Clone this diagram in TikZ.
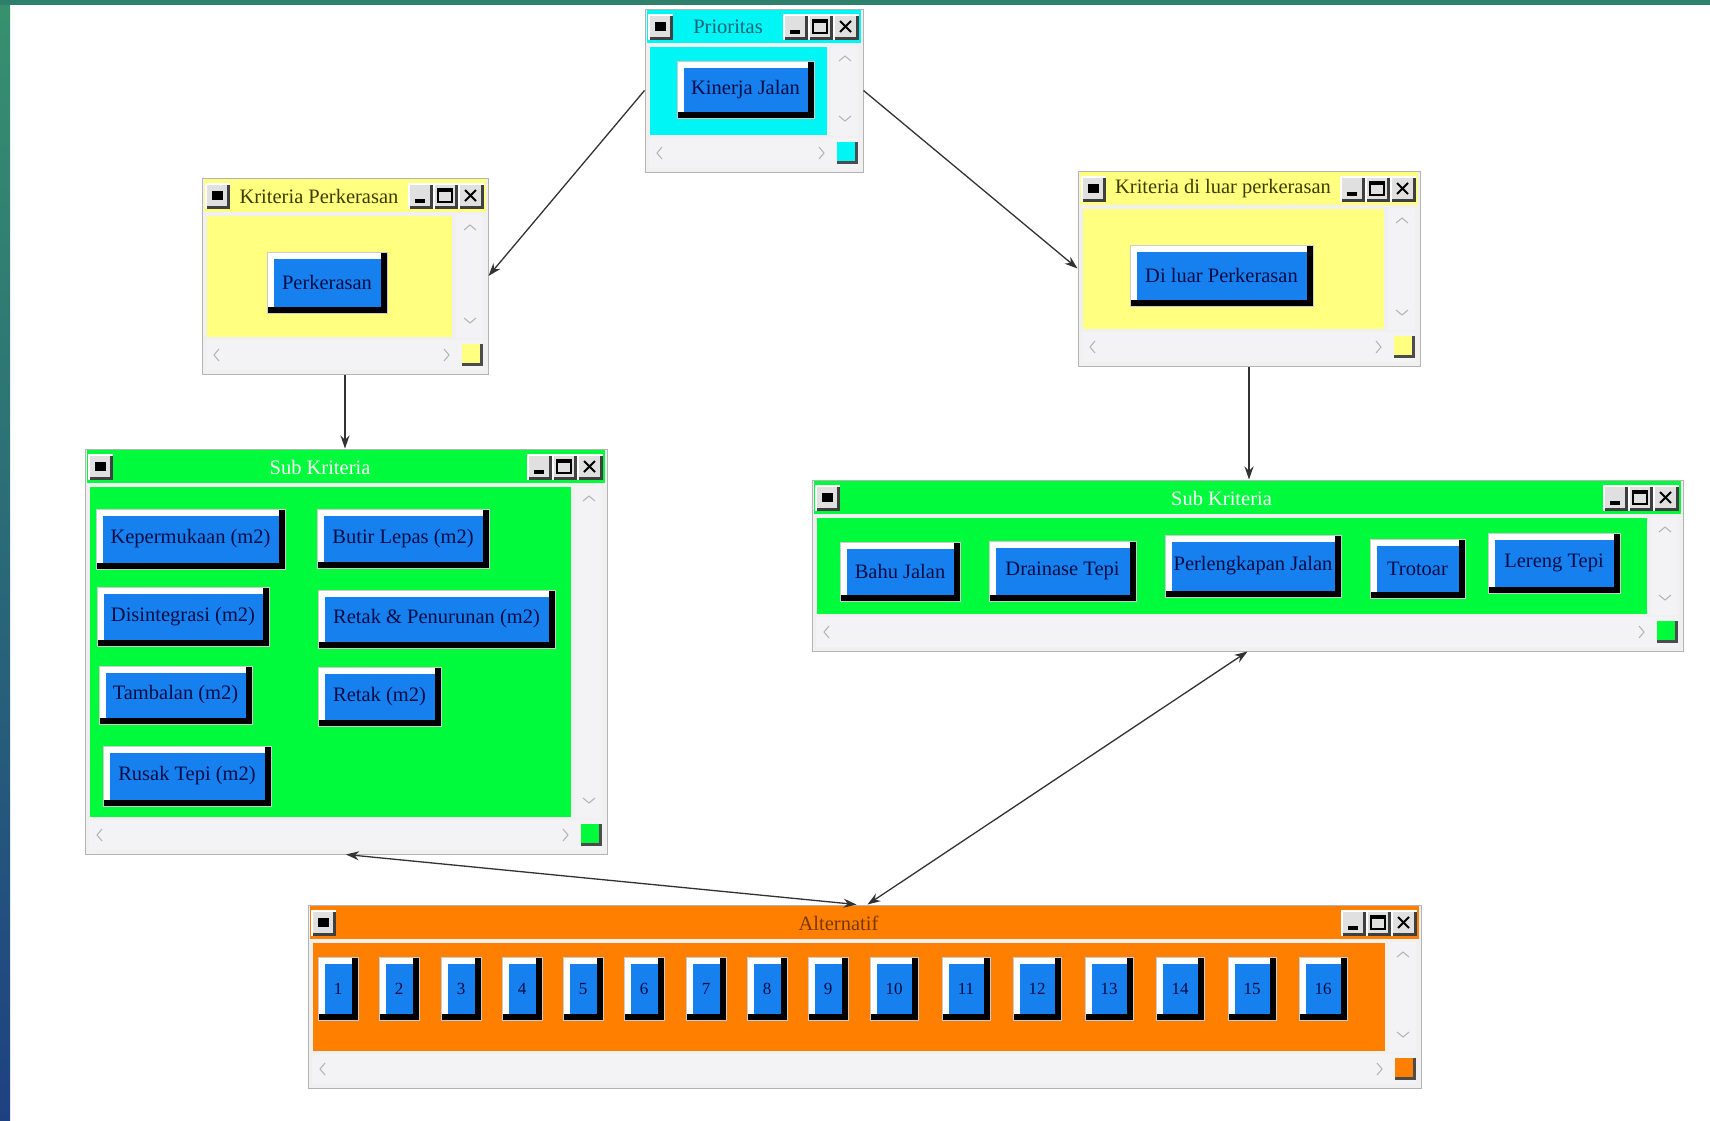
\documentclass[tikz,border=0pt]{standalone}
\usepackage{fontspec}
\setmainfont{Liberation Serif}
\usetikzlibrary{arrows.meta,calc}

\definecolor{btnblue}{RGB}{22,128,238}
\definecolor{btntext}{RGB}{5,12,70}
\definecolor{cyanw}{RGB}{0,245,245}
\definecolor{yelw}{RGB}{255,255,128}
\definecolor{greenw}{RGB}{0,250,60}
\definecolor{orangew}{RGB}{255,128,0}
\definecolor{framegray}{RGB}{240,240,240}
\definecolor{scrollgray}{RGB}{243,243,246}
\definecolor{edgegray}{RGB}{180,180,180}
\definecolor{tealtop}{RGB}{55,145,110}
\definecolor{bluebot}{RGB}{30,65,130}
\definecolor{topstrip}{RGB}{45,128,108}
\definecolor{titleteal}{RGB}{20,100,120}
\definecolor{titleolive}{RGB}{60,60,0}
\definecolor{titlebrown}{RGB}{120,55,0}
\definecolor{conncol}{RGB}{50,50,50}

\newcommand\btnfont{\fontsize{20.5}{22}\selectfont}
\newcommand\numfont{\fontsize{17}{19}\selectfont}

\tikzset{
  winframe/.style={rectangle, inner sep=0pt, fill=framegray, draw=edgegray, line width=1pt},
  wtitle/.style={inner sep=0pt, font=\btnfont},
  chev/.style={draw=black!30, line width=1pt},
  bbtn/.style={rectangle, inner sep=0pt, fill=white, draw=black!20, line width=0.8pt,
    text=btntext, font=\btnfont,
    path picture={
      \fill[black] (path picture bounding box.south west) rectangle (path picture bounding box.north east);
      \fill[white] (path picture bounding box.north west) rectangle ([xshift=-6pt,yshift=6pt]path picture bounding box.south east);
      \fill[btnblue] ([xshift=7pt,yshift=-7pt]path picture bounding box.north west) rectangle ([xshift=-6pt,yshift=6pt]path picture bounding box.south east);
    }},
  nbtn/.style={bbtn, font=\numfont},
  conn/.style={draw=conncol, line width=1.3pt, -{Stealth[length=13pt,width=9pt]}},
  dconn/.style={draw=conncol, line width=1.3pt, {Stealth[length=13pt,width=9pt]}-{Stealth[length=13pt,width=9pt]}},
}

\newcommand\tbtn[4]{%
  \fill[white] ({#1},{#2}) rectangle ({#3},{#4});
  \fill[black!75] ({#1+2},{#2+2}) rectangle ({#3},{#4});
  \fill[black!12] ({#1+2},{#2+2}) rectangle ({#3-3},{#4-3});
}

% name, x1, y1, x2, y2, colour, title, title colour
\newcommand\drawwin[8]{%
  \node[winframe, minimum width={#4-#2}, minimum height={#5-#3}] (#1) at ({(#2+#4)/2},{(#3+#5)/2}) {};
  \fill[#6] ({#2+2},{#3+1}) rectangle ({#4-2},{#3+34});
  \fill[#6] ({#2+5},{#3+38}) rectangle ({#4-36},{#5-37});
  \fill[scrollgray] ({#4-32},{#3+37}) rectangle ({#4-5},{#5-36});
  \fill[scrollgray] ({#2+4},{#5-34}) rectangle ({#4-5},{#5-4});
  \draw[chev] ({#4-24},{#3+52}) -- ({#4-18},{#3+47}) -- ({#4-12},{#3+52});
  \draw[chev] ({#4-24},{#5-56}) -- ({#4-18},{#5-51}) -- ({#4-12},{#5-56});
  \draw[chev] ({#2+17},{#5-25}) -- ({#2+12},{#5-19}) -- ({#2+17},{#5-13});
  \draw[chev] ({#4-44},{#5-25}) -- ({#4-39},{#5-19}) -- ({#4-44},{#5-13});
  \fill[black!70] ({#4-26},{#5-30}) rectangle ({#4-5},{#5-8});
  \fill[#6] ({#4-26},{#5-30}) rectangle ({#4-8},{#5-11});
  \tbtn{#2+3}{#3+5}{#2+28}{#3+31}
  \fill[black] ({#2+10},{#3+13}) rectangle ({#2+21},{#3+22});
  \tbtn{#4-80}{#3+5}{#4-55}{#3+31}
  \tbtn{#4-55}{#3+5}{#4-30}{#3+31}
  \tbtn{#4-30}{#3+5}{#4-4}{#3+31}
  \fill[black] ({#4-73},{#3+21}) rectangle ({#4-63},{#3+25});
  \draw[black, line width=1.2pt] ({#4-50},{#3+11}) rectangle ({#4-36},{#3+24});
  \fill[black] ({#4-50},{#3+11}) rectangle ({#4-36},{#3+14});
  \draw[black, line width=2pt] ({#4-23},{#3+12}) -- ({#4-12},{#3+23}) ({#4-23},{#3+23}) -- ({#4-12},{#3+12});
  \node[wtitle, text=#8] (#1-t) at ({(#2+#4)/2-26},{#3+18}) {#7};
}

% name, x1, y1, x2, y2, text
\newcommand\bb[6]{\node[bbtn, minimum width={#4-#2}, minimum height={#5-#3}] (#1) at ({(#2+#4)/2},{(#3+#5)/2}) {#6};}
\newcommand\nb[4]{\node[nbtn, minimum width={#3}, minimum height=63] (#1) at ({#2+#3/2},988.5) {#4};}

\begin{document}
\begin{tikzpicture}[x=1pt,y=-1pt]
\useasboundingbox (0,0) rectangle (1710,1120);
\fill[white] (0,0) rectangle (1710,1120);
\shade[top color=tealtop, bottom color=bluebot] (0,0) rectangle (10,1120);
\fill[topstrip] (0,0) rectangle (1710,5);

% windows
\drawwin{prio}{645}{9}{863}{172}{cyanw}{Prioritas}{titleteal}
\drawwin{kp}{202}{178}{488}{374}{yelw}{Kriteria Perkerasan}{titleolive}
\drawwin{kdl}{1078}{171}{1420}{366}{yelw}{Kriteria di luar perkerasan}{titleolive}
\drawwin{sk1}{85}{449}{607}{854}{greenw}{Sub Kriteria}{white}
\drawwin{sk2}{812}{480}{1683}{651}{greenw}{Sub Kriteria}{white}
\drawwin{alt}{308}{905}{1421}{1088}{orangew}{Alternatif}{titlebrown}

% buttons
\bb{kinerja}{677}{61}{814}{118}{Kinerja Jalan}
\bb{perk}{267}{252}{387}{313}{Perkerasan}
\bb{luar}{1130}{245}{1313}{306}{Di luar Perkerasan}

\bb{kep}{96}{509}{285}{569}{Kepermukaan (m2)}
\bb{butir}{317}{509}{489}{568}{Butir Lepas (m2)}
\bb{disi}{97}{587}{269}{646}{Disintegrasi (m2)}
\bb{retakp}{318}{590}{555}{648}{Retak \& Penurunan (m2)}
\bb{tamb}{99}{666}{252}{724}{Tambalan (m2)}
\bb{retak}{318}{667}{441}{726}{Retak (m2)}
\bb{rusak}{103}{746}{271}{806}{Rusak Tepi (m2)}

\bb{bahu}{840}{542}{960}{601}{Bahu Jalan}
\bb{drain}{989}{541}{1136}{601}{Drainase Tepi}
\bb{perl}{1165}{535}{1341}{597}{Perlengkapan Jalan}
\bb{trot}{1370}{539}{1465}{598}{Trotoar}
\bb{lereng}{1488}{533}{1620}{593}{Lereng Tepi}

\nb{a1}{318}{40}{1}
\nb{a2}{379}{40}{2}
\nb{a3}{441}{40}{3}
\nb{a4}{502}{40}{4}
\nb{a5}{563}{40}{5}
\nb{a6}{624}{40}{6}
\nb{a7}{686}{40}{7}
\nb{a8}{747}{40}{8}
\nb{a9}{808}{40}{9}
\nb{a10}{870}{48}{10}
\nb{a11}{942}{48}{11}
\nb{a12}{1013}{48}{12}
\nb{a13}{1085}{48}{13}
\nb{a14}{1156}{48}{14}
\nb{a15}{1228}{48}{15}
\nb{a16}{1299}{48}{16}

% connectors
\draw[conn] (prio.west) -- (kp.east);
\draw[conn] (prio.east) -- (kdl.west);
\draw[conn] (kp.south) -- (kp.south |- sk1.north);
\draw[conn] (kdl.south) -- (kdl.south |- sk2.north);
\draw[dconn] ([xshift=-8pt]alt.north) -- (sk1.south);
\draw[dconn] ([xshift=3pt]alt.north) -- (sk2.south);
\end{tikzpicture}
\end{document}
